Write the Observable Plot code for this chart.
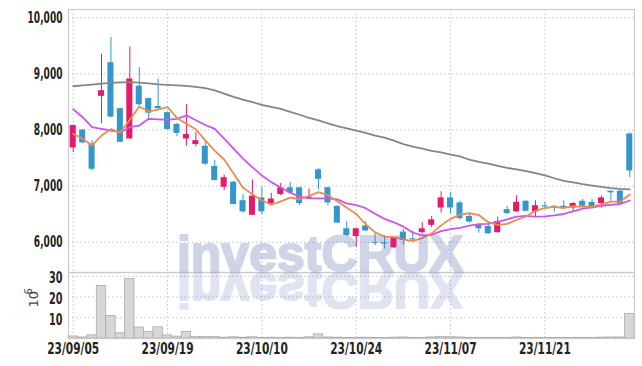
<!DOCTYPE html>
<html><head><meta charset="utf-8">
<script src="https://cdn.jsdelivr.net/npm/d3@7"></script>
<script src="https://cdn.jsdelivr.net/npm/@observablehq/plot@0.6"></script>
<style>
body{margin:0;background:#fff;}
#wrap{position:relative;width:642px;height:366px;overflow:hidden;}
#wrap > svg{display:block;}
#wm{position:absolute;left:0;top:0;pointer-events:none;}
</style></head><body><div id="wrap"></div>
<script>
const dates = ["23/09/05","23/09/06","23/09/07","23/09/08","23/09/11","23/09/12","23/09/13","23/09/14","23/09/15","23/09/18",
"23/09/19","23/09/20","23/09/21","23/09/22","23/09/25","23/09/26","23/09/27","23/10/04","23/10/05","23/10/06",
"23/10/10","23/10/11","23/10/12","23/10/13","23/10/16","23/10/17","23/10/18","23/10/19","23/10/20","23/10/23",
"23/10/24","23/10/25","23/10/26","23/10/27","23/10/30","23/10/31","23/11/01","23/11/02","23/11/03","23/11/06",
"23/11/07","23/11/08","23/11/09","23/11/10","23/11/13","23/11/14","23/11/15","23/11/16","23/11/17","23/11/20",
"23/11/21","23/11/22","23/11/23","23/11/24","23/11/27","23/11/28","23/11/29","23/11/30","23/12/01","23/12/04"];
const opens = [7680,8000,7750,8600,9200,8380,7840,8780,8560,8420,
8310,8100,7840,7740,7710,7350,6980,7070,6740,6480,
6790,6690,6850,6970,6970,6770,7290,6970,6640,6240,
6100,6290,5990,5990,5900,6180,6060,6170,6300,6610,
6790,6700,6460,6300,6280,6170,6580,6540,6730,6540,
6650,6640,6640,6610,6730,6710,6690,6910,6910,7930];
const highs = [8090,8010,7810,9350,9650,8390,9480,9110,8570,8910,
8320,8120,8450,7960,7800,7460,7200,7080,6850,7110,
6980,6870,7050,7070,6980,6950,7310,6980,6650,6370,
6250,6370,6160,6120,6100,6230,6200,6350,6460,6900,
6890,6730,6510,6310,6330,6450,6640,6830,6740,6740,
6710,6650,6740,6710,6760,6760,6820,6910,6930,7950];
const lows = [7600,7760,7270,8110,8220,7780,7840,8400,8200,8350,
8000,7880,7710,7700,7370,7090,6920,6670,6520,6480,
6490,6650,6830,6860,6650,6760,6930,6650,6340,6100,
5910,6190,5940,5880,5890,5940,6020,6150,6260,6520,
6510,6390,6340,6160,6140,6160,6490,6530,6540,6450,
6610,6540,6580,6550,6610,6590,6610,6730,6680,7150];
const closes = [8080,7770,7300,8700,8230,7780,8910,8450,8300,8380,
8010,7940,7920,7810,7390,7100,7150,6670,6540,6820,
6540,6770,6970,6880,6690,6800,7120,6700,6340,6120,
6240,6200,5975,5970,6080,6030,6040,6240,6400,6790,
6610,6420,6360,6240,6150,6370,6510,6710,6550,6650,
6630,6610,6610,6690,6640,6620,6790,6880,6690,7270];
const volumes = [1.0,0.5,1.5,25.3,10.8,2.5,28.7,5.3,3.2,5.4,
1.5,0.9,3.2,0.8,0.7,0.7,0.4,0.6,0.4,0.6,
0.3,0.4,0.3,0.4,0.3,0.6,2.0,0.5,0.4,0.3,
0.3,0.4,0.3,0.3,0.4,0.5,0.3,0.3,0.5,0.8,
0.6,0.5,0.3,0.3,0.3,0.3,0.3,0.5,0.3,0.3,
0.3,0.3,0.3,0.3,0.3,0.3,0.4,0.5,0.5,11.8];
const ma5 = [7932,7843,7724,7902,8016,7956,8184,8414,8334,8364,
8410,8216,8110,8012,7814,7632,7474,7224,6970,6856,
6744,6668,6728,6796,6770,6822,6892,6838,6730,6616,
6504,6320,6175,6101,6093,6051,6019,6072,6158,6300,
6416,6492,6516,6484,6356,6308,6326,6396,6458,6558,
6610,6630,6610,6638,6636,6634,6670,6724,6724,6850];
const ma10 = [8371,8228,8050,8021,7991,7961,8050,8080,8200,8190,
8183,8200,8262,8173,8089,8021,7845,7667,7491,7335,
7188,7071,6976,6883,6813,6783,6780,6783,6763,6693,
6663,6606,6507,6416,6355,6278,6170,6124,6130,6197,
6234,6256,6294,6321,6328,6362,6409,6456,6471,6457,
6459,6478,6503,6548,6597,6622,6650,6667,6681,6743];
const ma60 = [8780,8795,8810,8825,8840,8848,8852,8845,8830,8815,
8805,8795,8785,8770,8745,8705,8650,8590,8540,8495,
8450,8412,8375,8325,8272,8218,8170,8120,8070,8030,
7990,7950,7900,7865,7810,7750,7705,7670,7630,7600,
7563,7530,7470,7430,7400,7360,7325,7300,7265,7230,
7190,7140,7095,7065,7035,7010,6985,6965,6950,6940];
const tickLabels = ["23/09/05","23/09/19","23/10/10","23/10/24","23/11/07","23/11/21"];
const priceTicks = [6000,7000,8000,9000,10000];
const volumeTicks = [10,20,30];

const rows = dates.map((d, i) => ({date: d, open: opens[i], high: highs[i], low: lows[i], close: closes[i],
  volume: volumes[i], ma5: ma5[i], ma10: ma10[i], ma60: ma60[i]}));
const RED = "#e8196b", BLUE = "#3398c9";
const col = d => d.close >= d.open ? RED : BLUE;
const FONT = "'DejaVu Sans',sans-serif";
const gridStyle = {stroke: "#bfc3d9", strokeOpacity: 1, strokeDasharray: "1.5,2.5", strokeWidth: 1};
const xOpts = {type: "band", domain: dates, padding: 0, round: false, axis: null};

const price = Plot.plot({
  width: 642, height: 272, marginTop: 9, marginBottom: 0, marginLeft: 68, marginRight: 8,
  x: xOpts,
  y: {domain: [5460, 10148], axis: null},
  style: {background: "transparent", overflow: "visible"},
  marks: [
    Plot.gridY(priceTicks, gridStyle),
    Plot.gridX(tickLabels, gridStyle),
    Plot.ruleX(rows, {x: "date", y1: "low", y2: "high", stroke: col, strokeWidth: 1}),
    Plot.barY(rows, {x: "date", y1: "open", y2: "close", fill: col, insetLeft: 1.7, insetRight: 1.7}),
    Plot.line(rows, {x: "date", y: "ma60", stroke: "#858585", strokeWidth: 1.8}),
    Plot.line(rows, {x: "date", y: "ma10", stroke: "#cc55ee", strokeWidth: 1.8}),
    Plot.line(rows, {x: "date", y: "ma5", stroke: "#ef8a4f", strokeWidth: 1.8}),
    Plot.frame({stroke: "#c9c9c9", strokeWidth: 1.2}),
    Plot.axisY(priceTicks, {tickSize: 0, tickPadding: 6, tickFormat: d3.format(","), label: null,
      fontSize: 15, fontWeight: "bold", fontFamily: FONT, color: "#222"})
  ]
});

const vol = Plot.plot({
  width: 642, height: 94, marginTop: 0, marginBottom: 28, marginLeft: 68, marginRight: 8,
  x: xOpts,
  y: {domain: [0, 31.8], axis: null},
  style: {background: "transparent", overflow: "visible"},
  marks: [
    Plot.gridY(volumeTicks, gridStyle),
    Plot.gridX(tickLabels, gridStyle),
    Plot.barY(rows, {x: "date", y: "volume", fill: "#d7d7d7", stroke: "#acacac", strokeWidth: 0.8}),
    Plot.frame({stroke: "#c9c9c9", strokeWidth: 1.2}),
    Plot.axisY(volumeTicks, {tickSize: 0, tickPadding: 6, label: null, dy: 2,
      fontSize: 15, fontWeight: "bold", fontFamily: FONT, color: "#222"}),
    Plot.axisX(tickLabels, {tickSize: 0, tickPadding: 4, label: null,
      fontSize: 16, fontWeight: "bold", fontFamily: FONT, color: "#222"}),
    Plot.text(["10"], {frameAnchor: "left", dx: -35, dy: 2, rotate: -90, fontSize: 13,
      fontFamily: FONT, fill: "#444"}),
    Plot.text(["6"], {frameAnchor: "left", dx: -40, dy: -11, rotate: -90, fontSize: 10,
      fontFamily: FONT, fill: "#444"})
  ]
});

const wrap = document.getElementById("wrap");
wrap.appendChild(price);
wrap.appendChild(vol);

// condense tick labels horizontally (the reference uses a narrow face)
function condense(svg, selector, sample, targetWidth) {
  const texts = d3.select(svg).selectAll(selector);
  let w = null;
  texts.each(function() { if (this.textContent === sample) w = this.getComputedTextLength(); });
  if (!w) return;
  const sx = targetWidth / w;
  texts.each(function() {
    const t = d3.select(this);
    const tr = t.attr("transform") || "";
    t.attr("transform", `${tr} scale(${sx},1)`);
  });
}
condense(price, 'g[aria-label="y-axis tick label"] text', "10,000", 35);
condense(vol, 'g[aria-label="y-axis tick label"] text', "30", 13.5);
condense(vol, 'g[aria-label="x-axis tick label"] text', "23/09/05", 52);

const wm = d3.select(wrap).append("svg").attr("id", "wm").attr("width", 642).attr("height", 366);
const INK = "rgb(98,115,178)";
wm.append("g").attr("opacity", 0.3).append("text").text("investCRUX")
  .attr("x", 320).attr("y", 271).attr("text-anchor", "middle")
  .attr("font-family", "'Liberation Sans',Arial,sans-serif").attr("font-weight", "bold")
  .attr("font-size", 50).attr("fill", INK).attr("stroke", INK).attr("stroke-width", 2)
  .attr("stroke-linejoin", "round");
wm.append("g").attr("opacity", 0.19).append("text").text("investCRUX")
  .attr("x", 320).attr("y", 273).attr("text-anchor", "middle")
  .attr("transform", "translate(0,546) scale(1,-1)")
  .attr("font-family", "'Liberation Sans',Arial,sans-serif").attr("font-weight", "bold")
  .attr("font-size", 50).attr("fill", INK).attr("stroke", INK).attr("stroke-width", 2)
  .attr("stroke-linejoin", "round");
</script></body></html>
